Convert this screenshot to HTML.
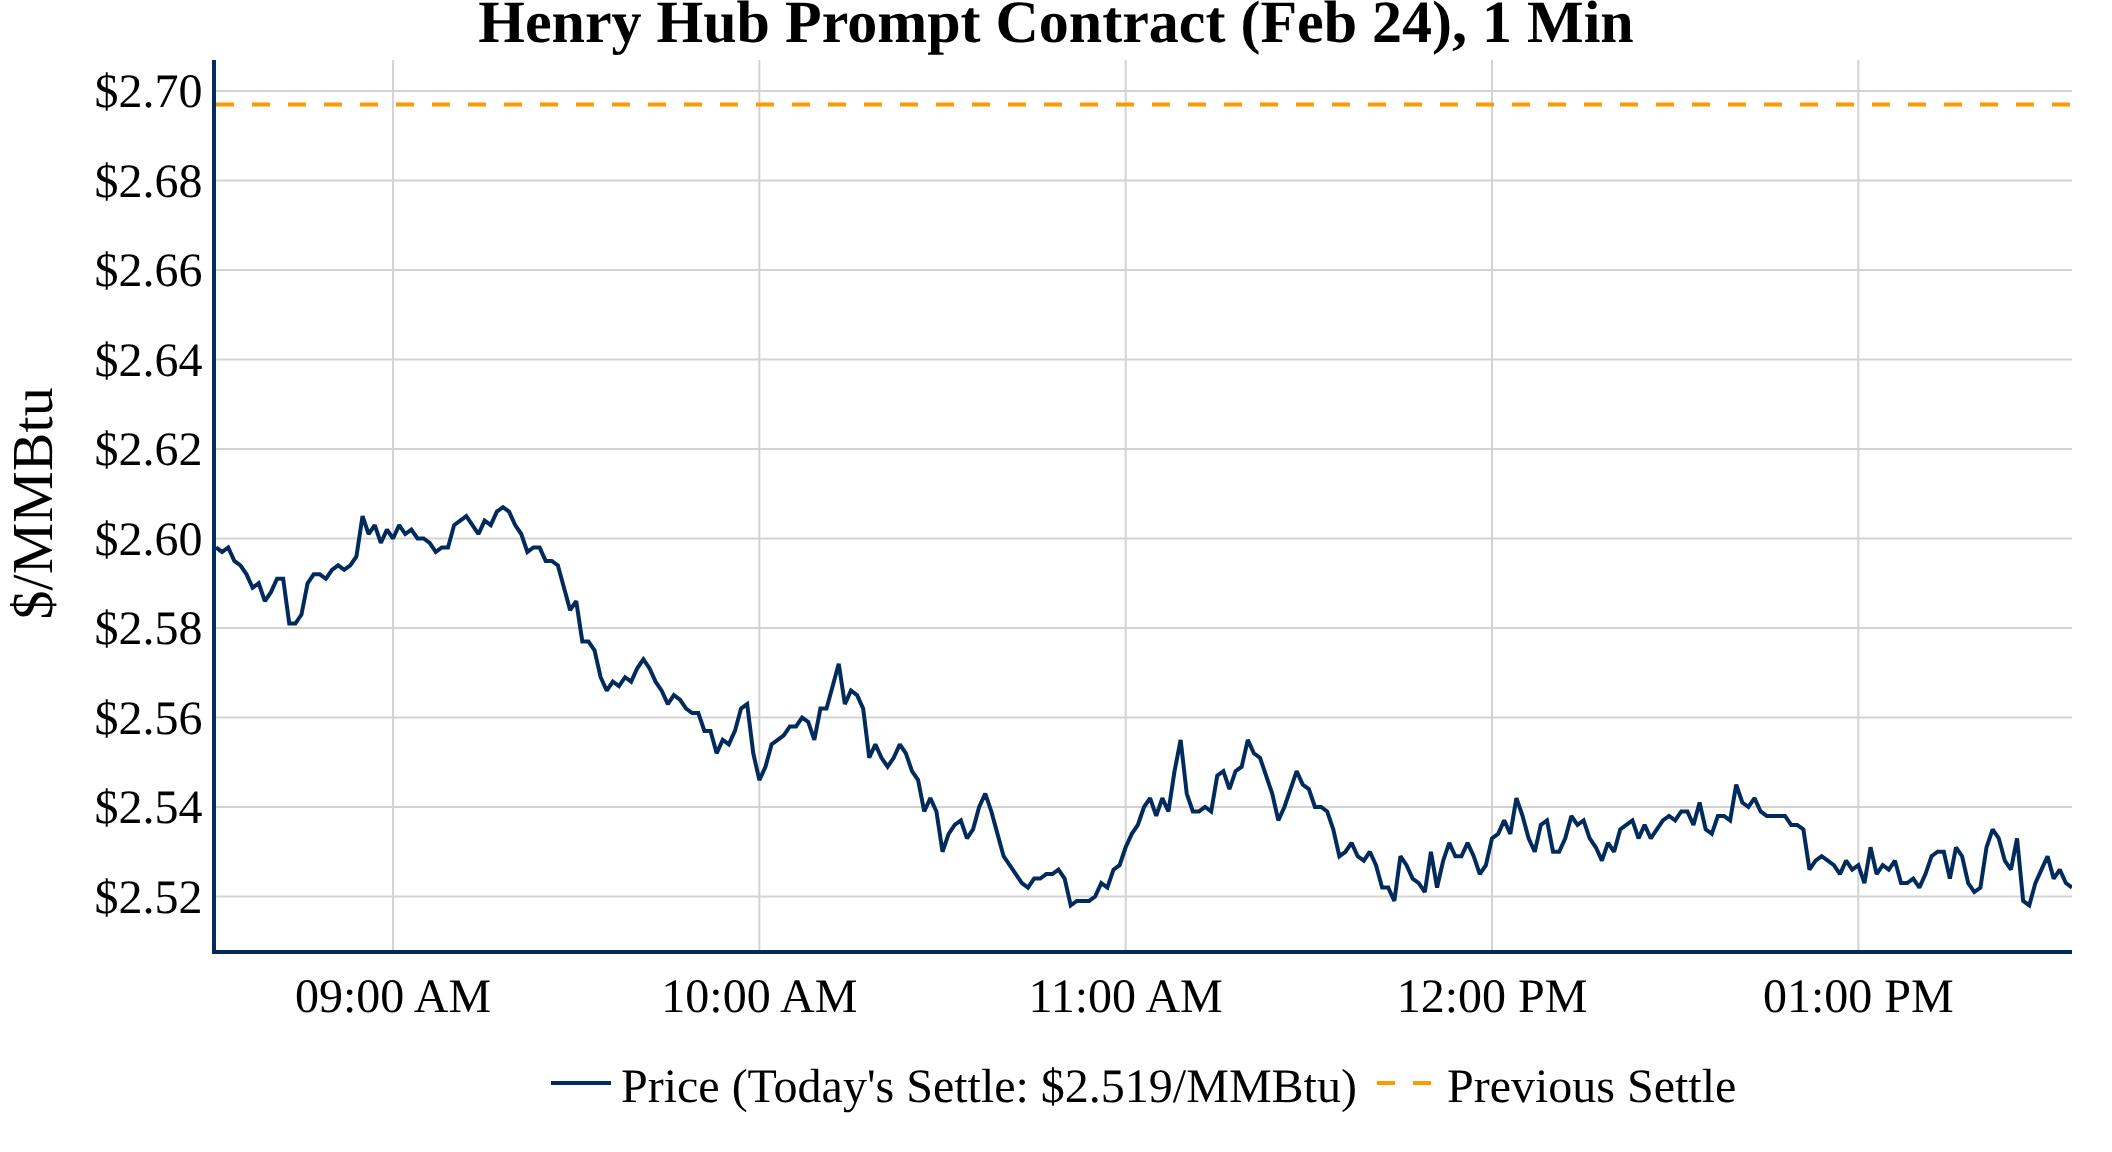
<!DOCTYPE html>
<html><head><meta charset="utf-8"><style>
html,body{margin:0;padding:0;background:#fff;}
svg{display:block;will-change:transform;}
text{font-family:"Liberation Serif",serif;fill:#000;text-rendering:geometricPrecision;}
</style></head><body>
<svg width="2112" height="1152" viewBox="0 0 2112 1152">
<defs><clipPath id="pc"><rect x="216" y="60" width="1856" height="890"/></clipPath></defs>
<rect width="2112" height="1152" fill="#fff"/>
<g stroke="#d3d3d3" stroke-width="2"><line x1="216" x2="2072" y1="91.00" y2="91.00"/><line x1="216" x2="2072" y1="180.50" y2="180.50"/><line x1="216" x2="2072" y1="270.00" y2="270.00"/><line x1="216" x2="2072" y1="359.50" y2="359.50"/><line x1="216" x2="2072" y1="449.00" y2="449.00"/><line x1="216" x2="2072" y1="538.50" y2="538.50"/><line x1="216" x2="2072" y1="628.00" y2="628.00"/><line x1="216" x2="2072" y1="717.50" y2="717.50"/><line x1="216" x2="2072" y1="807.00" y2="807.00"/><line x1="216" x2="2072" y1="896.50" y2="896.50"/><line x1="393.05" x2="393.05" y1="60" y2="950"/><line x1="759.37" x2="759.37" y1="60" y2="950"/><line x1="1125.68" x2="1125.68" y1="60" y2="950"/><line x1="1492.00" x2="1492.00" y1="60" y2="950"/><line x1="1858.32" x2="1858.32" y1="60" y2="950"/></g>
<line x1="216" x2="2072" y1="104.60" y2="104.60" stroke="#ff9900" stroke-width="4" stroke-dasharray="18,18"/>
<path clip-path="url(#pc)" d="M216.00,547.45 L222.11,551.92 L228.21,547.45 L234.32,560.88 L240.42,565.35 L246.53,574.30 L252.63,587.72 L258.74,583.25 L264.84,601.15 L270.95,592.20 L277.05,578.77 L283.16,578.77 L289.26,623.52 L295.37,623.52 L301.47,614.57 L307.58,583.25 L313.68,574.30 L319.79,574.30 L325.89,578.77 L332.00,569.83 L338.11,565.35 L344.21,569.83 L350.32,565.35 L356.42,556.40 L362.53,516.12 L368.63,534.02 L374.74,525.08 L380.84,542.97 L386.95,529.55 L393.05,538.50 L399.16,525.08 L405.26,534.02 L411.37,529.55 L417.47,538.50 L423.58,538.50 L429.68,542.97 L435.79,551.92 L441.89,547.45 L448.00,547.45 L454.11,525.08 L460.21,520.60 L466.32,516.12 L472.42,525.08 L478.53,534.02 L484.63,520.60 L490.74,525.08 L496.84,511.65 L502.95,507.17 L509.05,511.65 L515.16,525.08 L521.26,534.02 L527.37,551.92 L533.47,547.45 L539.58,547.45 L545.68,560.88 L551.79,560.88 L557.89,565.35 L564.00,587.72 L570.11,610.10 L576.21,601.15 L582.32,641.42 L588.42,641.42 L594.53,650.38 L600.63,677.22 L606.74,690.65 L612.84,681.70 L618.95,686.17 L625.05,677.22 L631.16,681.70 L637.26,668.27 L643.37,659.32 L649.47,668.27 L655.58,681.70 L661.68,690.65 L667.79,704.07 L673.89,695.12 L680.00,699.60 L686.11,708.55 L692.21,713.02 L698.32,713.02 L704.42,730.92 L710.53,730.92 L716.63,753.30 L722.74,739.88 L728.84,744.35 L734.95,730.92 L741.05,708.55 L747.16,704.07 L753.26,753.30 L759.37,780.15 L765.47,766.72 L771.58,744.35 L777.68,739.88 L783.79,735.40 L789.89,726.45 L796.00,726.45 L802.11,717.50 L808.21,721.97 L814.32,739.88 L820.42,708.55 L826.53,708.55 L832.63,686.17 L838.74,663.80 L844.84,704.07 L850.95,690.65 L857.05,695.12 L863.16,708.55 L869.26,757.77 L875.37,744.35 L881.47,757.77 L887.58,766.72 L893.68,757.77 L899.79,744.35 L905.89,753.30 L912.00,771.20 L918.11,780.15 L924.21,811.47 L930.32,798.05 L936.42,811.47 L942.53,851.75 L948.63,833.85 L954.74,824.90 L960.84,820.42 L966.95,838.32 L973.05,829.37 L979.16,807.00 L985.26,793.57 L991.37,811.47 L997.47,833.85 L1003.58,856.22 L1009.68,865.17 L1015.79,874.12 L1021.89,883.07 L1028.00,887.55 L1034.11,878.60 L1040.21,878.60 L1046.32,874.12 L1052.42,874.12 L1058.53,869.65 L1064.63,878.60 L1070.74,905.45 L1076.84,900.97 L1082.95,900.97 L1089.05,900.97 L1095.16,896.50 L1101.26,883.07 L1107.37,887.55 L1113.47,869.65 L1119.58,865.17 L1125.68,847.27 L1131.79,833.85 L1137.89,824.90 L1144.00,807.00 L1150.11,798.05 L1156.21,815.95 L1162.32,798.05 L1168.42,811.47 L1174.53,771.20 L1180.63,739.88 L1186.74,793.57 L1192.84,811.47 L1198.95,811.47 L1205.05,807.00 L1211.16,811.47 L1217.26,775.67 L1223.37,771.20 L1229.47,789.10 L1235.58,771.20 L1241.68,766.72 L1247.79,739.88 L1253.89,753.30 L1260.00,757.77 L1266.11,775.67 L1272.21,793.57 L1278.32,820.42 L1284.42,807.00 L1290.53,789.10 L1296.63,771.20 L1302.74,784.62 L1308.84,789.10 L1314.95,807.00 L1321.05,807.00 L1327.16,811.47 L1333.26,829.37 L1339.37,856.22 L1345.47,851.75 L1351.58,842.80 L1357.68,856.22 L1363.79,860.70 L1369.89,851.75 L1376.00,865.17 L1382.11,887.55 L1388.21,887.55 L1394.32,900.97 L1400.42,856.22 L1406.53,865.17 L1412.63,878.60 L1418.74,883.07 L1424.84,892.02 L1430.95,851.75 L1437.05,887.55 L1443.16,860.70 L1449.26,842.80 L1455.37,856.22 L1461.47,856.22 L1467.58,842.80 L1473.68,856.22 L1479.79,874.12 L1485.89,865.17 L1492.00,838.32 L1498.11,833.85 L1504.21,820.42 L1510.32,833.85 L1516.42,798.05 L1522.53,815.95 L1528.63,838.32 L1534.74,851.75 L1540.84,824.90 L1546.95,820.42 L1553.05,851.75 L1559.16,851.75 L1565.26,838.32 L1571.37,815.95 L1577.47,824.90 L1583.58,820.42 L1589.68,838.32 L1595.79,847.27 L1601.89,860.70 L1608.00,842.80 L1614.11,851.75 L1620.21,829.37 L1626.32,824.90 L1632.42,820.42 L1638.53,838.32 L1644.63,824.90 L1650.74,838.32 L1656.84,829.37 L1662.95,820.42 L1669.05,815.95 L1675.16,820.42 L1681.26,811.47 L1687.37,811.47 L1693.47,824.90 L1699.58,802.52 L1705.68,829.37 L1711.79,833.85 L1717.89,815.95 L1724.00,815.95 L1730.11,820.42 L1736.21,784.62 L1742.32,802.52 L1748.42,807.00 L1754.53,798.05 L1760.63,811.47 L1766.74,815.95 L1772.84,815.95 L1778.95,815.95 L1785.05,815.95 L1791.16,824.90 L1797.26,824.90 L1803.37,829.37 L1809.47,869.65 L1815.58,860.70 L1821.68,856.22 L1827.79,860.70 L1833.89,865.17 L1840.00,874.12 L1846.11,860.70 L1852.21,869.65 L1858.32,865.17 L1864.42,883.07 L1870.53,847.27 L1876.63,874.12 L1882.74,865.17 L1888.84,869.65 L1894.95,860.70 L1901.05,883.07 L1907.16,883.07 L1913.26,878.60 L1919.37,887.55 L1925.47,874.12 L1931.58,856.22 L1937.68,851.75 L1943.79,851.75 L1949.89,878.60 L1956.00,847.27 L1962.11,856.22 L1968.21,883.07 L1974.32,892.02 L1980.42,887.55 L1986.53,847.27 L1992.63,829.37 L1998.74,838.32 L2004.84,860.70 L2010.95,869.65 L2017.05,838.32 L2023.16,900.97 L2029.26,905.45 L2035.37,883.07 L2041.47,869.65 L2047.58,856.22 L2053.68,878.60 L2059.79,869.65 L2065.89,883.07 L2072.00,887.55" fill="none" stroke="#002b5c" stroke-width="4" stroke-miterlimit="2"/>
<line x1="214" x2="214" y1="60" y2="954" stroke="#002b5c" stroke-width="4"/>
<line x1="212" x2="2072" y1="952" y2="952" stroke="#002b5c" stroke-width="4"/>
<g font-size="48" text-anchor="end"><text x="202.5" y="107.30">$2.70</text><text x="202.5" y="196.80">$2.68</text><text x="202.5" y="286.30">$2.66</text><text x="202.5" y="375.80">$2.64</text><text x="202.5" y="465.30">$2.62</text><text x="202.5" y="554.80">$2.60</text><text x="202.5" y="644.30">$2.58</text><text x="202.5" y="733.80">$2.56</text><text x="202.5" y="823.30">$2.54</text><text x="202.5" y="912.80">$2.52</text></g>
<g font-size="48" text-anchor="middle"><text x="393.05" y="1011.5">09:00 AM</text><text x="759.37" y="1011.5">10:00 AM</text><text x="1125.68" y="1011.5">11:00 AM</text><text x="1492.00" y="1011.5">12:00 PM</text><text x="1858.32" y="1011.5">01:00 PM</text></g>
<text x="1056" y="42" font-size="60" font-weight="bold" text-anchor="middle">Henry Hub Prompt Contract (Feb 24), 1 Min</text>
<text transform="translate(52.2,503.4) rotate(-90)" font-size="58" text-anchor="middle">$/MMBtu</text>
<line x1="551" x2="611" y1="1083" y2="1083" stroke="#002b5c" stroke-width="4"/>
<text x="621" y="1102" font-size="48">Price (Today's Settle: $2.519/MMBtu)</text>
<line x1="1377" x2="1437" y1="1083" y2="1083" stroke="#ff9900" stroke-width="4" stroke-dasharray="18,18"/>
<text x="1447" y="1102" font-size="48">Previous Settle</text>
</svg>
</body></html>
